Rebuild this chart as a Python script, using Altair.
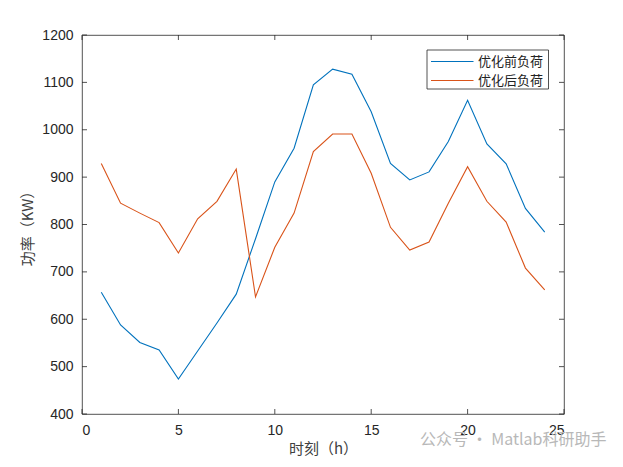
import altair as alt
import pandas as pd

hours = list(range(1, 25))
before = [657, 588, 551, 535, 474, 533, 592, 653, 770, 890, 961, 1095,
          1128, 1117, 1038, 929, 894, 911, 975, 1062, 970, 928, 834, 784]
after = [929, 845, 824, 804, 740, 812, 849, 917, 647, 752, 824, 954,
         991, 991, 908, 794, 746, 763, 845, 922, 849, 805, 708, 662]
series_names = ["优化前负荷", "优化后负荷"]
series_colors = ["#0072BD", "#D95319"]
x_ticks = [0, 5, 10, 15, 20, 25]
y_ticks = [400, 500, 600, 700, 800, 900, 1000, 1100, 1200]

W, H = 482, 379
CJK = "Noto Sans CJK SC"
NUM = "Liberation Sans"

df = pd.DataFrame({
    "h": hours * 2,
    "v": before + after,
    "s": [series_names[0]] * 24 + [series_names[1]] * 24,
})
xt = pd.DataFrame({"t": x_ticks})
yt = pd.DataFrame({"t": y_ticks})

xs = alt.Scale(domain=[0, 25], nice=False)
ys = alt.Scale(domain=[400, 1200], nice=False)

lines = alt.Chart(df).mark_line(strokeWidth=1.1).encode(
    x=alt.X("h:Q", scale=xs,
            axis=alt.Axis(values=x_ticks, title="时刻（h）", format="d")),
    y=alt.Y("v:Q", scale=ys,
            axis=alt.Axis(values=y_ticks, title="功率（KW）", format="d")),
    color=alt.Color("s:N",
                    scale=alt.Scale(domain=series_names, range=series_colors),
                    legend=None),
)

tick_len = 5
xb = alt.Chart(xt).mark_rule(color="#262626", strokeWidth=0.8).encode(
    x=alt.X("t:Q", scale=xs), y=alt.value(H), y2=alt.value(H - tick_len))
xtop = alt.Chart(xt).mark_rule(color="#262626", strokeWidth=0.8).encode(
    x=alt.X("t:Q", scale=xs), y=alt.value(0), y2=alt.value(tick_len))
yl = alt.Chart(yt).mark_rule(color="#262626", strokeWidth=0.8).encode(
    y=alt.Y("t:Q", scale=ys), x=alt.value(0), x2=alt.value(tick_len))
yr = alt.Chart(yt).mark_rule(color="#262626", strokeWidth=0.8).encode(
    y=alt.Y("t:Q", scale=ys), x=alt.value(W), x2=alt.value(W - tick_len))

# manual legend (MATLAB style box, top right)
leg_df = pd.DataFrame({"s": series_names})
leg_box = alt.Chart(leg_df.head(1)).mark_rect(
    fill="white", stroke="#262626", strokeWidth=0.8
).encode(x=alt.value(345), x2=alt.value(466.5), y=alt.value(15), y2=alt.value(54))
leg_layers = [leg_box]
for i, (name, col) in enumerate(zip(series_names, series_colors)):
    yy = 26.5 + 19 * i
    one = pd.DataFrame({"s": [name]})
    leg_layers.append(alt.Chart(one).mark_rule(color=col, strokeWidth=1.1).encode(
        x=alt.value(349), x2=alt.value(391.5), y=alt.value(yy)))
    leg_layers.append(alt.Chart(one).mark_text(
        font=CJK, fontSize=13, color="#222222", align="left", baseline="middle"
    ).encode(text="s:N", x=alt.value(396), y=alt.value(yy)))

wm = alt.Chart(pd.DataFrame({"w": ["公众号 · Matlab科研助手"]})).mark_text(
    font=CJK, fontSize=16, color="#b8b8b8", align="left", baseline="middle"
).encode(text="w:N", x=alt.value(338), y=alt.value(H + 26))

chart = alt.layer(lines, xb, xtop, yl, yr, *leg_layers, wm).properties(
    width=W, height=H,
    autosize=alt.AutoSizeParams(type="none"),
    padding={"left": 74, "top": 27, "right": 51, "bottom": 45},
).configure_view(
    stroke="#262626", strokeWidth=0.8
).configure_axis(
    domain=False, ticks=False, grid=False,
    labelFont=NUM, labelFontSize=14, labelColor="#262626",
    titleFont=CJK, titleFontSize=15, titleColor="#404040", titleFontWeight="normal",
).configure_axisX(
    labelPadding=9, titlePadding=4
).configure_axisY(
    labelPadding=9, titlePadding=6
)

chart.save("out.html", embed_options={"renderer": "svg", "actions": False})
